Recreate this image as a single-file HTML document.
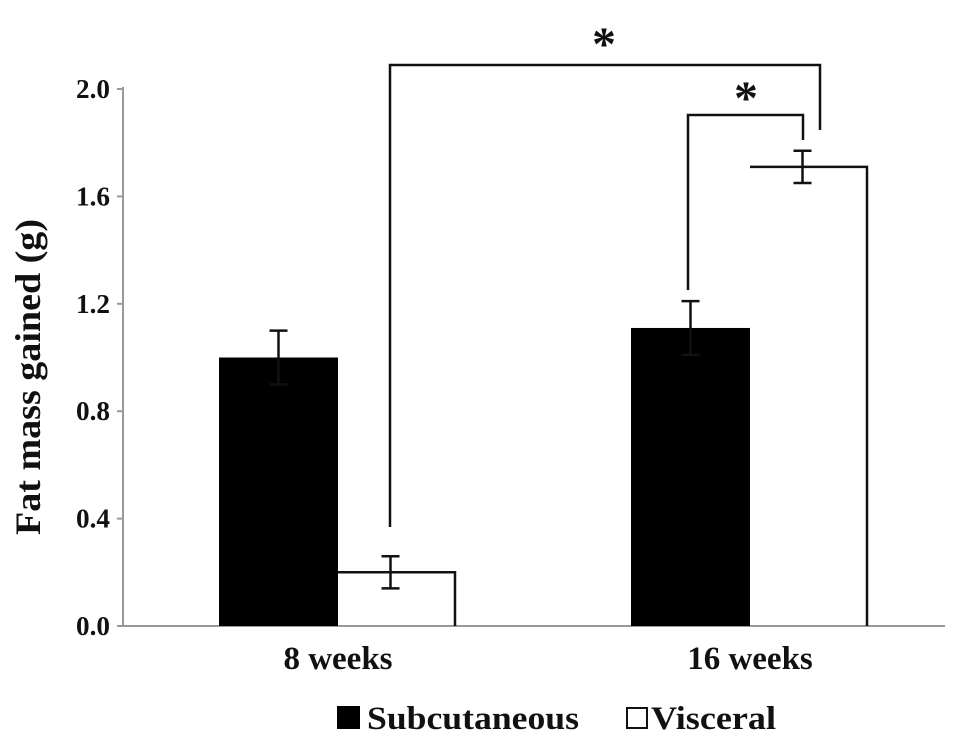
<!DOCTYPE html>
<html><head><meta charset="utf-8"><style>
html,body{margin:0;padding:0;background:#fff;}
svg{display:block;font-family:"Liberation Serif",serif;font-weight:bold;}
</style></head><body>
<svg id="chart" width="969" height="744" viewBox="0 0 969 744" xmlns="http://www.w3.org/2000/svg"></svg>
<script>
const groups = ["8 weeks", "16 weeks"];
const subcutaneous = [1.0, 1.11];
const subErr = [0.1, 0.1];
const visceral = [0.2, 1.71];
const visErr = [0.06, 0.06];
const yTicks = [0.0, 0.4, 0.8, 1.2, 1.6, 2.0];
const yTickLabels = ["0.0", "0.4", "0.8", "1.2", "1.6", "2.0"];

const NS = "http://www.w3.org/2000/svg";
const svg = document.getElementById("chart");
const x0 = 123, y0 = 626, yTop = 89;
function yS(v){ return y0 - (v/2.0)*(y0-yTop); }
const groupCenters = [338, 750];
const barW = 119;
function mk(tag, attrs, parent){ const e=document.createElementNS(NS,tag); for(const k in attrs) e.setAttribute(k,attrs[k]); (parent||svg).appendChild(e); return e; }

let ax = mk("line",{x1:x0,y1:y0,x2:945,y2:y0,stroke:"#999","stroke-width":2});


let ay = mk("line",{x1:x0,y1:yTop-2,x2:x0,y2:y0,stroke:"#999","stroke-width":2});



yTicks.forEach((v,i)=>{
  const y=yS(v);
  const t=mk("line",{x1:x0-6,y1:y,x2:x0,y2:y,stroke:"#999","stroke-width":2});
  
  
  const l=mk("text",{x:x0-13,y:y+9,"text-anchor":"end","font-size":27,fill:"#111",textLength:34,lengthAdjust:"spacingAndGlyphs"});
  l.textContent=yTickLabels[i];
  
  
});

const yt = mk("text",{x:0,y:0,transform:"translate(40,377) rotate(-90)","text-anchor":"middle","font-size":36,fill:"#111",textLength:316,lengthAdjust:"spacingAndGlyphs"});
yt.textContent="Fat mass gained (g)";



function errBar(cx, v, e){
  const g=mk("g",{stroke:"#111","stroke-width":2.5});
  
  
  mk("line",{x1:cx,y1:yS(v+e),x2:cx,y2:yS(v-e)},g);
  mk("line",{x1:cx-9,y1:yS(v+e),x2:cx+9,y2:yS(v+e)},g);
  mk("line",{x1:cx-9,y1:yS(v-e),x2:cx+9,y2:yS(v-e)},g);
}

groups.forEach((gname,i)=>{
  const c=groupCenters[i];
  const b1=mk("rect",{x:c-barW,y:yS(subcutaneous[i]),width:barW,height:y0-yS(subcutaneous[i]),fill:"#000"});
  
  
  const b2=mk("path",{d:`M${c},${yS(visceral[i])} H${c+barW-2} V${y0}`,fill:"none",stroke:"#111","stroke-width":2.5});
  
  
  errBar(c-barW/2, subcutaneous[i], subErr[i]);
  errBar(c+barW/2-7, visceral[i], visErr[i]);
  const l=mk("text",{x:c,y:669,"text-anchor":"middle","font-size":33,fill:"#111"});
  l.textContent=gname;
  
  
});

const br1=mk("path",{d:"M390,527 V65 H820 V130",fill:"none",stroke:"#111","stroke-width":2.5});


const br2=mk("path",{d:"M688,290 V115 H803 V140",fill:"none",stroke:"#111","stroke-width":2.5});


const s1=mk("text",{x:604,y:60,"text-anchor":"middle","font-size":48,fill:"#111"});
s1.textContent="*";


const s2=mk("text",{x:746,y:114,"text-anchor":"middle","font-size":48,fill:"#111"});
s2.textContent="*";



const lg=mk("g",{});


const k1=mk("rect",{x:337,y:706,width:23,height:23,fill:"#000"},lg);


const t1=mk("text",{x:367,y:729,"font-size":33,fill:"#111",textLength:212,lengthAdjust:"spacingAndGlyphs"},lg);
t1.textContent="Subcutaneous";


const k2=mk("rect",{x:627,y:708,width:20,height:20,fill:"#fff",stroke:"#111","stroke-width":2},lg);


const t2=mk("text",{x:651,y:729,"font-size":33,fill:"#111",textLength:125,lengthAdjust:"spacingAndGlyphs"},lg);
t2.textContent="Visceral";


</script>
</body></html>
